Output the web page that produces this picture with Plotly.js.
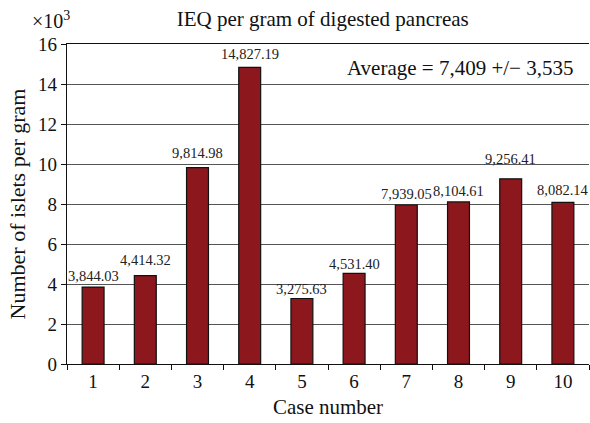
<!DOCTYPE html>
<html><head><meta charset="utf-8">
<script src="https://cdn.plot.ly/plotly-3.0.1.min.js"></script>
<style>html,body{margin:0;padding:0;background:#fff}</style>
</head><body>
<div id="chart" style="width:590px;height:423px"></div>
<script>
var cases = ['1','2','3','4','5','6','7','8','9','10'];
var ieqValues = [3844.03, 4414.32, 9814.98, 14827.19, 3275.63, 4531.40, 7939.05, 8104.61, 9256.41, 8082.14];
var labelTexts = ['3,844.03','4,414.32','9,814.98','14,827.19','3,275.63','4,531.40','7,939.05','8,104.61','9,256.41','8,082.14'];
var yTickVals = [0,2,4,6,8,10,12,14,16];
var averageText = 'Average = 7,409 +/\u2212 3,535';

var FONT = 'Liberation Serif, Times New Roman, serif';
var yScaled = ieqValues.map(function(v){return v/1000;});
var labelShift = [11, 16, 15, 13, 9, 9, 11, 11, 20, 12];

var annotations = cases.map(function(c,i){
  return {x:i, y:yScaled[i], xref:'x', yref:'y', text:labelTexts[i], showarrow:false,
    yshift:labelShift[i], font:{family:FONT,size:14.5,color:'#222'}};
});
annotations.push({x:0.753, y:0.925, xref:'paper', yref:'paper', xanchor:'center', yanchor:'middle',
  text:averageText, showarrow:false, font:{family:FONT,size:21,color:'#111'}});
annotations.push({x:-0.07, y:1.075, xref:'paper', yref:'paper', xanchor:'left', yanchor:'middle',
  text:'\u00d710<sup>3</sup>', showarrow:false, font:{family:FONT,size:20,color:'#111'}});

var trace = {type:'bar', x:cases, y:yScaled, width:0.42,
  marker:{color:'#8c181d', line:{color:'#111', width:1.2}}, hoverinfo:'none'};

var layout = {
  width:590, height:423, margin:{l:67,r:1,t:44,b:59},
  paper_bgcolor:'#fff', plot_bgcolor:'#fff', showlegend:false,
  title:{text:'IEQ per gram of digested pancreas', x:0.547, xanchor:'center', y:0.955, yanchor:'middle',
    font:{family:FONT,size:21,color:'#111'}},
  xaxis:{type:'category', range:[-0.5,9.5], tickson:'boundaries', ticks:'outside', ticklen:5, tickcolor:'#111',
    showline:true, linecolor:'#111', linewidth:1.2, mirror:true, showgrid:false,
    tickfont:{family:FONT,size:19,color:'#111'},
    title:{text:'Case number', font:{family:FONT,size:21,color:'#111'}, standoff:8}},
  yaxis:{range:[0,16], tickvals:yTickVals, ticks:'outside', ticklen:5, tickcolor:'#111',
    showline:true, linecolor:'#111', linewidth:1.2, showgrid:true, gridcolor:'#555', gridwidth:1,
    zeroline:false, tickfont:{family:FONT,size:19,color:'#111'},
    title:{text:'Number of islets per gram', font:{family:FONT,size:22,color:'#111'}, standoff:6}},
  annotations:annotations
};
Plotly.newPlot('chart',[trace],layout,{staticPlot:true,displayModeBar:false});
</script>
</body></html>
